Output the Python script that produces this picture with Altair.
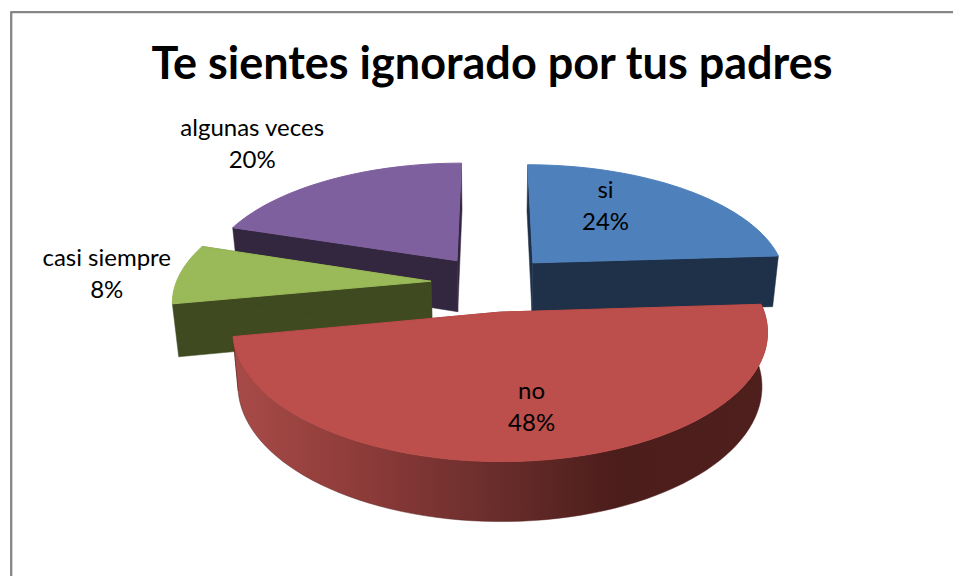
import math
import altair as alt
import pandas as pd

# ---- chart values ----
title_text = "Te sientes ignorado por tus padres"
categories = ["si", "no", "casi siempre", "algunas veces"]
shares = [24, 48, 8, 20]

# ---- styling ----
top_colors = ["#4e80bc", "#bc4e4b", "#9ab958", "#7f609e"]
wall_colors = ["#1e3149", "#5a2523", "#3f4a21", "#33263f"]
draw_order = [3, 0, 2, 1]
label_radius = [0.6, 0.6, 1.15, 1.15]
label_shift = [(-21, -26), (9, -3), (-36, -14), (-61, -40)]

# ---- 3D pie camera ----
CX, CY, R, RF, K, EXPLODE, SHRINK, DEPTH = 492, 283, 255, 118, 0.147, 0.24, 0.98, 52
W, H = 945, 568


def project(u, v, bottom=False):
    s = 1 / (1 + K * v)
    x = R * u * s
    y = -RF * v * s
    if bottom:
        return CX + x * SHRINK, CY + y * SHRINK + DEPTH * s
    return CX + x, CY + y


def slice_point(mid, theta, r):
    return (
        EXPLODE * math.sin(mid) + r * math.sin(theta),
        EXPLODE * math.cos(mid) + r * math.cos(theta),
    )


x_scale = alt.Scale(domain=[8, 8 + W], range=[0, W], nice=False, zero=False)
y_scale = alt.Scale(domain=[8 + H, 8], range=[H, 0], nice=False, zero=False)


def polygon(points, fill, width=0.5):
    df = pd.DataFrame(
        [{"px": p[0], "py": p[1], "i": i} for i, p in enumerate(points + points[:1])]
    )
    stroke = fill if isinstance(fill, str) else "#5a2523"
    return (
        alt.Chart(df)
        .mark_line(fill=fill, stroke=stroke, strokeWidth=width, interpolate="linear")
        .encode(
            x=alt.X("px:Q", scale=x_scale, axis=None),
            y=alt.Y("py:Q", scale=y_scale, axis=None),
            order=alt.Order("i:Q"),
        )
    )


red_rim = alt.LinearGradient(
    gradient="linear",
    x1=0, x2=1, y1=0, y2=0,
    stops=[
        alt.GradientStop(color="#a84b48", offset=0),
        alt.GradientStop(color="#8c3b39", offset=0.25),
        alt.GradientStop(color="#6b2e2c", offset=0.48),
        alt.GradientStop(color="#4b1d1b", offset=0.72),
        alt.GradientStop(color="#4e1f1d", offset=1),
    ],
)

# angular extents come from the shares
total = sum(shares)
starts, acc = [], 0
for v in shares:
    starts.append(acc / total * 2 * math.pi)
    acc += v
ends = starts[1:] + [2 * math.pi]

layers = []
for idx in draw_order:
    a0, a1 = starts[idx], ends[idx]
    mid = (a0 + a1) / 2
    n = max(8, int((a1 - a0) / 0.04))
    arc = [slice_point(mid, a0 + (a1 - a0) * j / n, 1) for j in range(n + 1)]
    apex = slice_point(mid, mid, 0)
    top_arc = [project(*p) for p in arc]
    bot_arc = [project(*p, bottom=True) for p in arc]
    top_apex = project(*apex)
    bot_apex = project(*apex, bottom=True)
    wall = wall_colors[idx]
    # radial cut walls
    layers.append(polygon([top_apex, top_arc[0], bot_arc[0], bot_apex], wall))
    layers.append(polygon([top_apex, top_arc[-1], bot_arc[-1], bot_apex], wall))
    # outer rim: only the front slice shows it
    if categories[idx] == "no":
        layers.append(polygon(top_arc + bot_arc[::-1], red_rim))
    # top face
    layers.append(polygon([top_apex] + top_arc, top_colors[idx], width=1))

# labels
FONT = "Lato"
for idx in range(len(categories)):
    a0, a1 = starts[idx], ends[idx]
    mid = (a0 + a1) / 2
    px, py = project(*slice_point(mid, mid, label_radius[idx]))
    dx, dy = label_shift[idx]
    df = pd.DataFrame([{"px": px, "py": py, "label": f"{categories[idx]}\n{shares[idx]}%"}])
    layers.append(
        alt.Chart(df)
        .mark_text(font=FONT, fontSize=24, color="#000000", dx=dx, dy=dy, lineBreak="\n",
                   lineHeight=32, align="center", baseline="middle")
        .encode(
            x=alt.X("px:Q", scale=x_scale, axis=None),
            y=alt.Y("py:Q", scale=y_scale, axis=None),
            text="label:N",
        )
    )

# title
layers.append(
    alt.Chart(pd.DataFrame([{"t": title_text}]))
    .mark_text(font=FONT, fontSize=45, fontWeight="bold", color="#000000", align="center", baseline="middle")
    .encode(x=alt.value(492 - 8), y=alt.value(65 - 8), text="t:N")
)

# frame of the picture
frame_color = "#868686"
layers.append(
    alt.Chart(pd.DataFrame([{"a": 0}]))
    .mark_rule(color=frame_color, strokeWidth=2.3)
    .encode(x=alt.value(3.2), x2=alt.value(W), y=alt.value(4.2))
)
layers.append(
    alt.Chart(pd.DataFrame([{"a": 0}]))
    .mark_rule(color=frame_color, strokeWidth=2.3)
    .encode(x=alt.value(3.2), y=alt.value(3.2), y2=alt.value(H))
)

chart = (
    alt.layer(*layers)
    .properties(width=W, height=H, padding=0, autosize=alt.AutoSizeParams(type="none"), background="white")
    .configure_view(stroke=None)
)
chart.save("out.html", embed_options={"renderer": "svg", "actions": False})
